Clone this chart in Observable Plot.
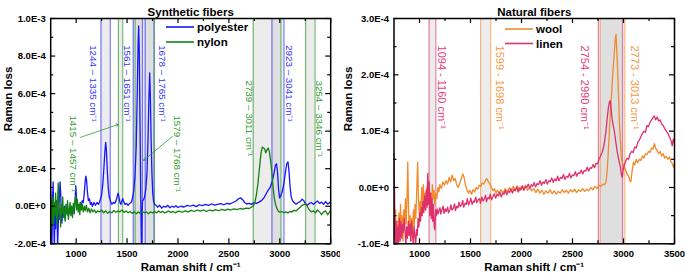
<!DOCTYPE html>
<html><head><meta charset="utf-8">
<script src="https://cdn.jsdelivr.net/npm/d3@7"></script>
<script src="https://cdn.jsdelivr.net/npm/@observablehq/plot@0.6"></script>
<style>
body{margin:0;background:#fff;}
#root{position:relative;width:685px;height:277px;font-family:"Liberation Sans",Arial,sans-serif;}
#root svg{position:absolute;top:0;}
</style></head><body><div id="root"></div>
<script>
// ---------- DATA (Raman loss in units of 1e-4) ----------
const polyester = [[750,0.8],[756,-0.6],[762,-2.4],[768,0.4],[774,1.3],[780,-0.8],[786,-2.4],[792,-0.3],[798,-1.2],[805,0.3],[812,-0.4],[818,-2.3],[824,-1.0],[830,-0.2],[836,0.6],[842,1.3],[848,0.7],[854,-0.5],[860,-0.9],[868,-0.1],[876,-0.5],[884,0.0],[892,-0.7],[900,-0.2],[910,0.1],[920,-0.5],[930,-0.2],[940,-0.4],[950,0.0],[960,-0.3],[970,-0.1],[980,-0.4],[990,0.3],[996,1.1],[1002,0.6],[1010,-0.1],[1020,0.1],[1030,-0.2],[1040,0.2],[1050,0.0],[1060,0.3],[1070,0.2],[1080,0.7],[1088,1.3],[1095,1.6],[1102,1.4],[1110,0.8],[1120,0.3],[1130,0.4],[1140,0.1],[1150,0.2],[1160,0.0],[1175,0.2],[1190,0.05],[1205,0.2],[1220,0.1],[1235,0.3],[1250,0.6],[1262,1.2],[1272,2.0],[1282,2.9],[1290,3.4],[1297,3.0],[1305,2.0],[1315,1.0],[1325,0.5],[1335,0.3],[1350,0.1],[1365,0.2],[1380,0.15],[1392,0.3],[1402,0.5],[1412,0.7],[1420,0.5],[1430,0.2],[1440,0.1],[1450,0.3],[1458,0.4],[1466,0.25],[1480,0.1],[1495,0.15],[1510,0.05],[1525,0.15],[1540,0.2],[1552,0.4],[1565,0.8],[1578,1.6],[1590,3.2],[1600,6.0],[1608,8.6],[1614,9.6],[1620,8.2],[1627,4.5],[1633,1.2],[1638,-1.0],[1642,-2.5],[1647,-0.5],[1652,0.3],[1662,0.35],[1672,0.5],[1684,0.9],[1696,1.8],[1706,3.6],[1714,5.6],[1722,7.1],[1729,5.8],[1736,3.6],[1744,1.8],[1752,0.7],[1760,0.3],[1770,0.1],[1785,0.05],[1800,-0.05],[1820,0.05],[1840,-0.1],[1860,0.0],[1880,-0.05],[1900,0.05],[1920,-0.08],[1940,0.0],[1960,-0.05],[1980,0.03],[2000,-0.06],[2030,0.0],[2060,-0.04],[2090,0.05],[2120,0.0],[2150,0.06],[2180,-0.02],[2210,0.08],[2240,0.03],[2270,0.1],[2300,0.05],[2330,0.12],[2360,0.06],[2390,0.1],[2420,0.14],[2450,0.08],[2480,0.15],[2510,0.12],[2540,0.2],[2570,0.28],[2595,0.4],[2615,0.45],[2635,0.35],[2655,0.2],[2675,0.12],[2700,0.15],[2720,0.1],[2745,0.18],[2770,0.15],[2795,0.22],[2820,0.3],[2845,0.45],[2865,0.65],[2885,0.85],[2905,1.0],[2925,1.3],[2945,1.8],[2958,2.2],[2968,2.26],[2978,1.8],[2988,0.9],[2998,0.45],[3010,0.55],[3025,0.8],[3040,1.2],[3055,1.8],[3068,2.25],[3080,2.37],[3090,1.9],[3100,1.1],[3112,0.5],[3125,0.3],[3140,0.2],[3160,0.1],[3180,0.2],[3200,0.25],[3220,0.38],[3235,0.3],[3250,0.15],[3270,0.05],[3290,0.15],[3310,0.2],[3330,0.1],[3350,0.2],[3370,0.28],[3390,0.15],[3410,0.22],[3430,0.1],[3450,0.25],[3470,0.12],[3490,0.2],[3500,0.15]];

const nylon = [[750,-0.15],[756,0.3],[762,-1.2],[768,-0.2],[774,0.5],[780,-0.9],[786,0.2],[792,-0.5],[798,0.7],[805,-0.2],[812,-1.0],[818,0.3],[824,1.25],[830,0.2],[836,-0.7],[842,-0.1],[848,-1.1],[854,0.1],[860,-0.4],[868,0.5],[876,-0.6],[884,-0.1],[892,-0.8],[900,0.1],[908,-0.4],[916,0.3],[924,-0.7],[932,-0.2],[940,0.2],[948,-0.5],[956,0.0],[964,-0.6],[972,0.15],[980,-0.3],[988,0.3],[996,0.55],[1004,-0.2],[1012,0.35],[1020,-0.3],[1028,0.1],[1036,-0.45],[1044,0.2],[1052,-0.2],[1060,0.1],[1070,-0.3],[1080,0.0],[1090,-0.25],[1100,0.05],[1112,-0.3],[1124,-0.1],[1136,-0.35],[1150,-0.15],[1165,-0.3],[1180,-0.2],[1195,-0.35],[1210,-0.25],[1230,-0.3],[1250,-0.2],[1270,-0.35],[1290,-0.25],[1310,-0.38],[1330,-0.28],[1350,-0.35],[1370,-0.22],[1390,-0.32],[1410,-0.25],[1430,-0.3],[1450,-0.2],[1470,-0.33],[1490,-0.25],[1510,-0.35],[1530,-0.28],[1550,-0.38],[1570,-0.3],[1590,-0.4],[1610,-0.3],[1630,-0.38],[1650,-0.28],[1670,-0.35],[1690,-0.3],[1710,-0.4],[1730,-0.3],[1750,-0.36],[1770,-0.28],[1790,-0.35],[1810,-0.25],[1830,-0.33],[1850,-0.27],[1870,-0.36],[1890,-0.3],[1910,-0.25],[1930,-0.33],[1950,-0.27],[1970,-0.35],[1990,-0.3],[2010,-0.26],[2040,-0.32],[2070,-0.25],[2100,-0.3],[2130,-0.22],[2160,-0.28],[2190,-0.2],[2220,-0.26],[2250,-0.2],[2280,-0.27],[2310,-0.2],[2340,-0.25],[2370,-0.18],[2400,-0.24],[2430,-0.17],[2460,-0.22],[2490,-0.15],[2520,-0.2],[2550,-0.14],[2580,-0.18],[2610,-0.12],[2640,-0.15],[2670,-0.1],[2700,-0.12],[2720,-0.05],[2740,0.02],[2755,0.2],[2770,0.6],[2785,1.2],[2800,2.0],[2815,2.8],[2828,3.15],[2840,3.1],[2852,3.05],[2862,2.85],[2874,3.0],[2886,3.1],[2898,2.9],[2910,2.4],[2922,1.8],[2934,1.0],[2946,0.45],[2958,0.1],[2970,-0.1],[2985,-0.25],[3000,-0.32],[3020,-0.28],[3040,-0.35],[3060,-0.3],[3080,-0.36],[3100,-0.28],[3120,-0.3],[3140,-0.22],[3160,-0.25],[3180,-0.15],[3200,-0.05],[3220,0.05],[3240,0.1],[3258,0.12],[3275,-0.05],[3290,-0.2],[3310,-0.3],[3330,-0.25],[3350,-0.35],[3370,-0.2],[3390,-0.3],[3410,-0.45],[3430,-0.3],[3450,-0.25],[3470,-0.45],[3490,-0.3],[3500,-0.2]];

const wool = [[750,-0.5],[758,-0.9],[766,-0.4],[774,-1.1],[782,-0.6],[790,-0.85],[798,-0.45],[806,-0.95],[814,-0.3],[822,-0.8],[830,-0.5],[838,-0.95],[846,-0.4],[854,-0.7],[862,-0.2],[870,-0.65],[878,-0.15],[885,0.45],[892,-0.3],[900,-0.85],[908,-0.5],[916,-0.95],[924,-0.55],[932,-0.85],[940,-0.4],[948,-0.7],[956,-0.3],[964,-0.55],[972,-0.1],[982,0.45],[990,-0.2],[998,-0.5],[1006,-0.25],[1014,-0.45],[1022,0.0],[1030,-0.3],[1038,0.05],[1046,-0.35],[1054,-0.1],[1062,-0.4],[1070,0.0],[1078,-0.3],[1086,0.1],[1094,-0.15],[1102,-0.4],[1110,-0.1],[1118,-0.3],[1126,0.05],[1134,-0.2],[1142,-0.05],[1150,-0.3],[1160,-0.1],[1170,-0.2],[1180,0.0],[1190,-0.08],[1200,0.05],[1215,-0.02],[1230,0.1],[1245,0.04],[1260,0.12],[1275,0.06],[1290,0.18],[1305,0.1],[1320,0.22],[1335,0.12],[1350,0.16],[1365,0.04],[1380,0.0],[1395,0.08],[1410,0.16],[1425,0.24],[1437,0.18],[1450,0.05],[1465,-0.04],[1480,-0.1],[1495,-0.05],[1510,-0.12],[1525,-0.04],[1540,-0.08],[1555,0.0],[1570,-0.03],[1585,0.04],[1600,0.02],[1615,0.08],[1630,0.06],[1645,0.12],[1660,0.16],[1675,0.1],[1690,0.06],[1705,0.0],[1720,-0.06],[1735,-0.02],[1750,-0.1],[1765,-0.05],[1780,-0.12],[1800,-0.04],[1820,-0.1],[1840,-0.02],[1860,-0.08],[1880,0.0],[1900,-0.07],[1920,0.02],[1940,-0.05],[1960,0.03],[1980,-0.06],[2000,0.02],[2020,-0.04],[2040,0.04],[2060,-0.05],[2080,0.0],[2100,-0.06],[2120,-0.02],[2140,-0.09],[2160,-0.03],[2180,-0.1],[2200,-0.05],[2220,-0.12],[2240,-0.06],[2260,-0.1],[2280,-0.04],[2300,-0.11],[2320,-0.06],[2340,-0.12],[2360,-0.07],[2380,-0.1],[2400,-0.04],[2420,-0.09],[2440,-0.05],[2460,-0.1],[2480,-0.04],[2500,-0.08],[2520,-0.03],[2540,-0.09],[2560,-0.04],[2580,-0.07],[2600,-0.02],[2620,-0.07],[2640,-0.03],[2660,-0.06],[2680,0.0],[2700,-0.04],[2720,0.02],[2740,-0.02],[2760,0.04],[2780,0.02],[2800,0.06],[2815,0.05],[2829,0.1],[2840,0.3],[2850,0.6],[2862,1.0],[2874,1.4],[2886,1.75],[2898,2.1],[2910,2.4],[2920,2.65],[2927,2.72],[2935,2.4],[2943,2.05],[2952,1.6],[2960,1.15],[2970,0.8],[2982,0.48],[2995,0.42],[3008,0.36],[3020,0.32],[3035,0.24],[3050,0.2],[3062,0.12],[3072,0.1],[3085,0.3],[3098,0.45],[3110,0.4],[3125,0.5],[3140,0.44],[3155,0.5],[3170,0.48],[3185,0.56],[3200,0.52],[3215,0.6],[3230,0.58],[3245,0.64],[3260,0.62],[3275,0.7],[3290,0.68],[3302,0.78],[3315,0.7],[3330,0.66],[3345,0.6],[3360,0.64],[3375,0.56],[3390,0.6],[3405,0.52],[3420,0.55],[3435,0.5],[3450,0.54],[3465,0.46],[3480,0.42],[3490,0.36],[3500,0.42]];

const linen = [[750,0.6],[756,-0.2],[762,-1.1],[770,-0.6],[778,-1.2],[786,-0.7],[794,-1.0],[802,-0.55],[810,-0.95],[818,-0.6],[826,-0.9],[834,-0.65],[842,-0.8],[850,-0.55],[858,-0.75],[866,-1.05],[874,-0.7],[882,-0.9],[890,-0.6],[898,-0.85],[906,-0.65],[914,-0.95],[922,-0.6],[930,-0.8],[938,-1.0],[946,-0.7],[954,-0.85],[962,-1.05],[970,-0.75],[978,-0.85],[986,-0.55],[994,-0.7],[1002,-0.45],[1010,-0.6],[1018,-0.35],[1026,-0.5],[1034,-0.25],[1042,-0.45],[1050,-0.15],[1058,-0.4],[1066,-0.05],[1074,-0.35],[1081,0.25],[1088,-0.3],[1095,0.1],[1102,-0.5],[1109,-0.1],[1116,-0.55],[1123,-0.2],[1130,-0.6],[1137,-0.3],[1144,-0.7],[1151,-0.75],[1158,-0.4],[1166,-0.5],[1173,-0.38],[1182,-0.47],[1190,-0.42],[1201,-0.36],[1208,-0.47],[1219,-0.4],[1232,-0.33],[1240,-0.46],[1252,-0.38],[1261,-0.43],[1276,-0.35],[1284,-0.45],[1297,-0.4],[1309,-0.31],[1318,-0.4],[1331,-0.37],[1344,-0.29],[1352,-0.41],[1366,-0.33],[1378,-0.36],[1387,-0.26],[1399,-0.34],[1412,-0.31],[1424,-0.23],[1433,-0.35],[1447,-0.28],[1459,-0.3],[1468,-0.2],[1481,-0.31],[1495,-0.25],[1503,-0.19],[1516,-0.3],[1529,-0.24],[1538,-0.26],[1552,-0.17],[1561,-0.27],[1575,-0.22],[1588,-0.2],[1597,-0.28],[1611,-0.17],[1623,-0.24],[1634,-0.21],[1648,-0.14],[1657,-0.25],[1671,-0.18],[1684,-0.2],[1693,-0.12],[1707,-0.22],[1720,-0.16],[1733,-0.11],[1746,-0.19],[1760,-0.12],[1772,-0.15],[1787,-0.08],[1801,-0.17],[1815,-0.1],[1828,-0.12],[1842,-0.05],[1856,-0.13],[1869,-0.06],[1883,-0.09],[1897,-0.02],[1911,-0.1],[1925,-0.03],[1938,-0.06],[1953,0.01],[1967,-0.08],[1981,-0.01],[1995,-0.04],[2010,0.03],[2024,-0.05],[2038,0.02],[2052,0.0],[2067,0.06],[2081,-0.02],[2095,0.05],[2110,0.02],[2124,0.09],[2138,0.01],[2153,0.07],[2167,0.05],[2181,0.12],[2196,0.04],[2210,0.1],[2224,0.07],[2239,0.14],[2253,0.06],[2268,0.12],[2282,0.1],[2296,0.17],[2311,0.09],[2325,0.15],[2340,0.12],[2354,0.2],[2368,0.12],[2383,0.18],[2397,0.16],[2412,0.23],[2426,0.14],[2441,0.2],[2455,0.18],[2470,0.25],[2484,0.17],[2499,0.22],[2513,0.21],[2528,0.28],[2542,0.2],[2557,0.26],[2571,0.25],[2586,0.31],[2600,0.24],[2615,0.3],[2629,0.29],[2644,0.36],[2658,0.29],[2673,0.35],[2687,0.34],[2702,0.41],[2716,0.35],[2731,0.43],[2745,0.42],[2760,0.5],[2775,0.56],[2790,0.62],[2803,0.7],[2815,0.82],[2828,1.0],[2840,1.22],[2852,1.42],[2862,1.52],[2870,1.54],[2878,1.4],[2888,1.22],[2900,1.1],[2912,0.98],[2925,0.8],[2940,0.62],[2955,0.48],[2970,0.36],[2980,0.22],[2987,0.18],[2995,0.3],[3008,0.4],[3020,0.46],[3035,0.52],[3050,0.5],[3065,0.6],[3080,0.64],[3095,0.62],[3110,0.72],[3125,0.7],[3140,0.8],[3155,0.84],[3170,0.9],[3185,0.96],[3200,1.0],[3215,0.98],[3230,1.1],[3245,1.08],[3260,1.16],[3275,1.2],[3290,1.24],[3302,1.27],[3315,1.2],[3330,1.25],[3345,1.18],[3360,1.2],[3375,1.12],[3390,1.1],[3405,1.04],[3420,1.0],[3435,0.96],[3450,0.9],[3465,0.84],[3478,0.74],[3488,0.86],[3500,0.77]];

// bands (cm^-1)
const synthBands = [
  {from:1244,to:1335,color:"#3333ff"},{from:1561,to:1651,color:"#3333ff"},
  {from:1678,to:1765,color:"#3333ff"},{from:2923,to:3041,color:"#3333ff"},
  {from:1415,to:1457,color:"#2e9a2e"},{from:1579,to:1768,color:"#2e9a2e"},
  {from:2739,to:3011,color:"#2e9a2e"},{from:3254,to:3346,color:"#2e9a2e"}
];
const naturalBands = [
  {from:1094,to:1160,color:"#e0407a"},{from:2754,to:2990,color:"#e0407a"},
  {from:1599,to:1698,color:"#f29a45"},{from:2773,to:3013,color:"#f29a45"}
];
// band annotations: x, y (top of rotated text)
const synthLabels = [
  {x:1171,y:8.58,text:"1244 – 1335 cm⁻¹",color:"#3333ff"},
  {x:1501,y:8.58,text:"1561 – 1651 cm⁻¹",color:"#3333ff"},
  {x:1845,y:8.58,text:"1678 – 1765 cm⁻¹",color:"#3333ff"},
  {x:3089,y:8.58,text:"2923 – 3041 cm⁻¹",color:"#3333ff"},
  {x:2696,y:6.7,text:"2739 – 3011 cm⁻¹",color:"#2e9a2e"},
  {x:3384,y:6.7,text:"3254 – 3346 cm⁻¹",color:"#2e9a2e"},
  {x:974,y:4.84,text:"1415 – 1457 cm⁻¹",color:"#2e9a2e"},
  {x:1996,y:4.84,text:"1579 – 1768 cm⁻¹",color:"#2e9a2e"}
];
const synthArrows = [
  {x1:1043,y1:3.67,x2:1416,y2:4.36},
  {x1:1946,y1:3.72,x2:1662,y2:2.44}
];
const naturalLabels = [
  {x:1218,y:2.52,text:"1094 - 1160 cm⁻¹",color:"#e0407a"},
  {x:1780,y:2.52,text:"1599 - 1698 cm⁻¹",color:"#f29a45"},
  {x:2617,y:2.52,text:"2754 - 2990 cm⁻¹",color:"#e0407a"},
  {x:3105,y:2.52,text:"2773 - 3013 cm⁻¹",color:"#f29a45"}
];
// ticks
const xMajor = [1000,1500,2000,2500,3000,3500];
const xMinor = [1250,1750,2250,2750,3250];
const ySynthMajor = [-2,0,2,4,6,8,10];
const ySynthMinor = [-1,1,3,5,7,9];
const yNatMajor = [-1,0,1,2,3];
const yNatMinor = [-0.5,0.5,1.5,2.5];

const FONT = "Liberation Sans, Arial, Helvetica, sans-serif";
const H = 277;
function fmtE(v){ return (v*1e-4).toExponential(1).toUpperCase(); }

function panel(o){
  const innerW = o.width - o.ml - o.mr, innerH = H - o.mt - o.mb;
  const marks = [
    Plot.rect(o.bands, {x1:"from", x2:"to", fill:"#c4c4c4", fillOpacity:0.33}),
    Plot.ruleX(o.bands.flatMap(b=>[{x:b.from,c:b.color},{x:b.to,c:b.color}]), {x:"x", stroke:"c", strokeOpacity:0.65, strokeWidth:1.2}),
  ];
  for (const s of o.series) marks.push(Plot.line(s.data, {x:d=>d[0], y:d=>d[1], stroke:s.color, strokeWidth:1.3, clip:true}));
  marks.push(
    Plot.text(o.labels, {x:"x", y:"y", text:"text", fill:"color", rotate:90, textAnchor:"start", fontSize:o.labelSize}),
    Plot.tickY(o.yMajor, {y:d=>d, insetRight:innerW-5, strokeWidth:1.2}),
    Plot.tickY(o.yMajor, {y:d=>d, insetLeft:innerW-5, strokeWidth:1.2}),
    Plot.tickY(o.yMinor, {y:d=>d, insetRight:innerW-3, strokeWidth:1.2}),
    Plot.tickY(o.yMinor, {y:d=>d, insetLeft:innerW-3, strokeWidth:1.2}),
    Plot.tickX(xMajor, {x:d=>d, insetTop:innerH-5, strokeWidth:1.2}),
    Plot.tickX(xMajor, {x:d=>d, insetBottom:innerH-5, strokeWidth:1.2}),
    Plot.tickX(xMinor, {x:d=>d, insetTop:innerH-3, strokeWidth:1.2}),
    Plot.tickX(xMinor, {x:d=>d, insetBottom:innerH-3, strokeWidth:1.2}),
    Plot.axisY(o.yMajor, {anchor:"left", tickSize:0, tickPadding:5, tickFormat:fmtE, fontWeight:"bold", fontSize:9.5, label:null}),
    Plot.axisX(xMajor, {anchor:"bottom", tickSize:0, tickPadding:6.5, tickFormat:d=>String(d), fontWeight:"bold", fontSize:9.5, label:null}),
    Plot.frame({stroke:"black", strokeWidth:1.5}),
    Plot.text([o.title], {frameAnchor:"top", dy:-11, fontWeight:"bold", fontSize:11.5, text:d=>d}),
    Plot.text(["Raman loss"], {frameAnchor:"left", dx:o.ylabDx, rotate:-90, fontWeight:"bold", fontSize:11.5, text:d=>d}),
    Plot.text(["Raman shift / cm⁻¹"], {frameAnchor:"bottom", dy:27, fontWeight:"bold", fontSize:11.5, text:d=>d})
  );
  if (o.arrows) marks.push(Plot.arrow(o.arrows, {x1:"x1", y1:"y1", x2:"x2", y2:"y2", stroke:"#2e9a2e", strokeWidth:0.8, headLength:5}));
  const svg = Plot.plot({
    width:o.width, height:H, marginLeft:o.ml, marginRight:o.mr, marginTop:o.mt, marginBottom:o.mb,
    x:{domain:[750,3500]}, y:{domain:o.yDomain}, color:{type:"identity"},
    style:{fontFamily:FONT, background:"transparent", color:"black"},
    marks
  });
  svg.style.left = o.left + "px";
  return svg;
}

const root = document.getElementById("root");
root.appendChild(panel({
  left:0, width:340, ml:50.2, mr:9.8, mt:18, mb:33.7, yDomain:[-2,10],
  yMajor:ySynthMajor, yMinor:ySynthMinor, bands:synthBands, labels:synthLabels, arrows:synthArrows,
  series:[{data:polyester,color:"#1515ff"},{data:nylon,color:"#12820f"}],
  title:"Synthetic fibers", ylabDx:-42, labelSize:9.8
}));
root.appendChild(panel({
  left:340, width:345, ml:53.5, mr:11, mt:18, mb:33.7, yDomain:[-1,3],
  yMajor:yNatMajor, yMinor:yNatMinor, bands:naturalBands, labels:naturalLabels,
  series:[{data:wool,color:"#f28a2a"},{data:linen,color:"#e0306a"}],
  title:"Natural fibers", ylabDx:-46, labelSize:11
}));

// legends
const legends = [
  {x:166, y:27, name:"polyester", color:"#1515ff"},
  {x:166, y:42, name:"nylon", color:"#12820f"},
  {x:505, y:29, name:"wool", color:"#f28a2a"},
  {x:505, y:43.5, name:"linen", color:"#e0306a"}
];
const ns = "http://www.w3.org/2000/svg";
const lg = document.createElementNS(ns, "svg");
lg.setAttribute("width", 685); lg.setAttribute("height", H);
lg.style.left = "0px";
for (const l of legends) {
  const ln = document.createElementNS(ns, "line");
  ln.setAttribute("x1", l.x); ln.setAttribute("x2", l.x + 28);
  ln.setAttribute("y1", l.y); ln.setAttribute("y2", l.y);
  ln.setAttribute("stroke", l.color); ln.setAttribute("stroke-width", 1.6);
  lg.appendChild(ln);
  const t = document.createElementNS(ns, "text");
  t.setAttribute("x", l.x + 31); t.setAttribute("y", l.y);
  t.setAttribute("dy", "0.35em");
  t.setAttribute("font-family", FONT); t.setAttribute("font-weight", "bold"); t.setAttribute("font-size", 11.5);
  t.textContent = l.name;
  lg.appendChild(t);
}
root.appendChild(lg);
</script></body></html>
